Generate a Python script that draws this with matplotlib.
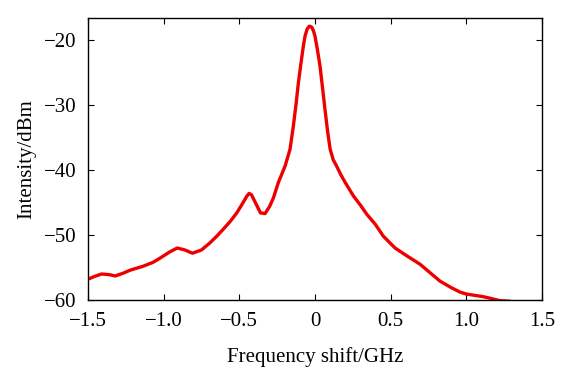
import numpy as np
import matplotlib.pyplot as plt

# values
freq = [-1.50, -1.46, -1.41, -1.36, -1.32, -1.27, -1.22, -1.135, -1.07, -1.02,
        -0.96, -0.91, -0.86, -0.81, -0.75, -0.694, -0.65, -0.606, -0.56, -0.517,
        -0.475, -0.45, -0.436, -0.42, -0.39, -0.36, -0.33, -0.30, -0.275, -0.242,
        -0.198, -0.165, -0.143, -0.125, -0.110, -0.093, -0.077, -0.065, -0.052, -0.037,
        -0.022, -0.010, 0.0, 0.016, 0.033, 0.05, 0.066, 0.083, 0.10, 0.120,
        0.143, 0.170, 0.199, 0.254, 0.30, 0.342, 0.40, 0.452, 0.529, 0.60,
        0.694, 0.76, 0.826, 0.90, 0.96, 1.003, 1.06, 1.113, 1.17, 1.22, 1.29]
intensity = [-56.8, -56.4, -56.0, -56.1, -56.3, -55.9, -55.4, -54.8, -54.2, -53.5,
             -52.6, -52.0, -52.3, -52.8, -52.3, -51.2, -50.2, -49.1, -47.9, -46.6,
             -45.0, -44.0, -43.6, -43.8, -45.2, -46.6, -46.7, -45.6, -44.3, -41.9,
             -39.4, -36.8, -33.2, -29.8, -26.6, -23.6, -20.9, -19.3, -18.3, -17.85,
             -18.0, -18.6, -19.4, -21.5, -24.0, -27.4, -30.7, -34.0, -36.8, -38.4,
             -39.4, -40.7, -41.9, -44.0, -45.4, -46.8, -48.4, -50.2, -52.0, -53.1,
             -54.5, -55.8, -57.1, -58.1, -58.8, -59.1, -59.3, -59.5, -59.8, -60.1, -60.2]

xticks = [-1.5, -1.0, -0.5, 0, 0.5, 1.0, 1.5]
xticklabels = ['\u22121.5', '\u22121.0', '\u22120.5', '0', '0.5', '1.0', '1.5']
yticks = [-60, -50, -40, -30, -20]
yticklabels = ['\u221260', '\u221250', '\u221240', '\u221230', '\u221220']

plt.rcParams['font.family'] = ['Liberation Serif', 'DejaVu Serif']
plt.rcParams['font.size'] = 15

fig = plt.figure(figsize=(5.74, 3.71), dpi=100)
ax = fig.add_axes([0.1533, 0.1914, 0.791, 0.7601])

ax.plot(freq, intensity, color='#ee0000', linewidth=2.4, solid_capstyle='round')

ax.set_xlim(-1.5, 1.5)
ax.set_ylim(-60, -16.6)
ax.set_xticks(xticks)
ax.set_xticklabels(xticklabels)
ax.set_yticks(yticks)
ax.set_yticklabels(yticklabels)
ax.tick_params(direction='in', top=True, right=True, length=4, width=0.8)
ax.tick_params(axis='x', pad=9)
ax.tick_params(axis='y', pad=8)
for s in ax.spines.values():
    s.set_linewidth(1.0)

ax.set_xlabel('Frequency shift/GHz', labelpad=11)
ax.set_ylabel('Intensity/dBm', labelpad=6)

fig.savefig('out.png', dpi=100)
